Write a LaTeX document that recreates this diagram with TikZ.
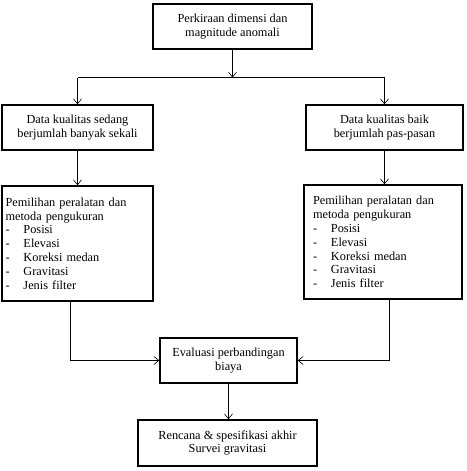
\documentclass[tikz,border=0pt]{standalone}
\usepackage{fontspec}
\setmainfont{Liberation Serif}
\usepackage{tikz}
\usetikzlibrary{arrows.meta,positioning,calc}

\begin{document}
\begin{tikzpicture}[x=1pt,y=-1pt]
\tikzset{
     boxed/.style={draw, line width=1.3pt, align=center, inner sep=0pt, font=\fontsize{12.3}{13.2}\selectfont},
     listed/.style={boxed, align=left, font=\fontsize{12.3}{13.8}\selectfont},
     link/.style={draw, line width=0.6pt, -{Straight Barb[length=5pt,width=8pt]}}}

\useasboundingbox (0,0) rectangle (466,471);

% a dash in front of each item
\def\itm{\makebox[18pt][l]{-}}

% The boxes
\node (anomali) at (232.5,26.5) [boxed, minimum width=159pt, minimum height=45pt] {Perkiraan dimensi dan\\magnitude anomali};
\node (sedang) at (77.5,127.5) [boxed, minimum width=151pt, minimum height=45pt] {Data kualitas sedang\\berjumlah banyak sekali};
\node (baik) at (384.5,127.5) [boxed, minimum width=157pt, minimum height=45pt] {Data kualitas baik\\berjumlah pas-pasan};

\node (pilihL) at (77.5,243.5) [listed, inner xsep=3.5pt, text width=144pt, minimum height=115pt]
  {Pemilihan peralatan dan\\metoda pengukuran\\\itm Posisi\\\itm Elevasi\\\itm Koreksi medan\\\itm Gravitasi\\\itm Jenis filter};
\node (pilihR) at (383,242) [listed, inner xsep=9pt, text width=140pt, minimum height=114pt]
  {Pemilihan peralatan dan\\metoda pengukuran\\\itm Posisi\\\itm Elevasi\\\itm Koreksi medan\\\itm Gravitasi\\\itm Jenis filter};

\node (evaluasi) at (228.5,360.5) [boxed, minimum width=137pt, minimum height=45pt] {Evaluasi perbandingan\\biaya};
\node (rencana) at (227.5,443) [boxed, minimum width=179pt, minimum height=46pt] {Rencana \& spesifikasi akhir\\Survei gravitasi};

% The connectors
\coordinate (split) at ($(anomali.south)+(0,28)$);
\coordinate (splitL) at (sedang.north |- split);
\coordinate (splitR) at (baik.north |- split);

\draw[link] (anomali) -- (split);
\draw[line width=0.6pt] (splitL) -- (splitR);
\draw[link] (splitL) -- (sedang);
\draw[link] (splitR) -- (baik);

\draw[link] (sedang) -- (pilihL);
\draw[link] (baik.south) -- (baik.south |- pilihR.north);

\draw[link] ([xshift=-7pt]pilihL.south) |- (evaluasi);
\draw[link] ([xshift=6pt]pilihR.south) |- (evaluasi);

\draw[link] (evaluasi.south) -- (evaluasi.south |- rencana.north);
\end{tikzpicture}
\end{document}
